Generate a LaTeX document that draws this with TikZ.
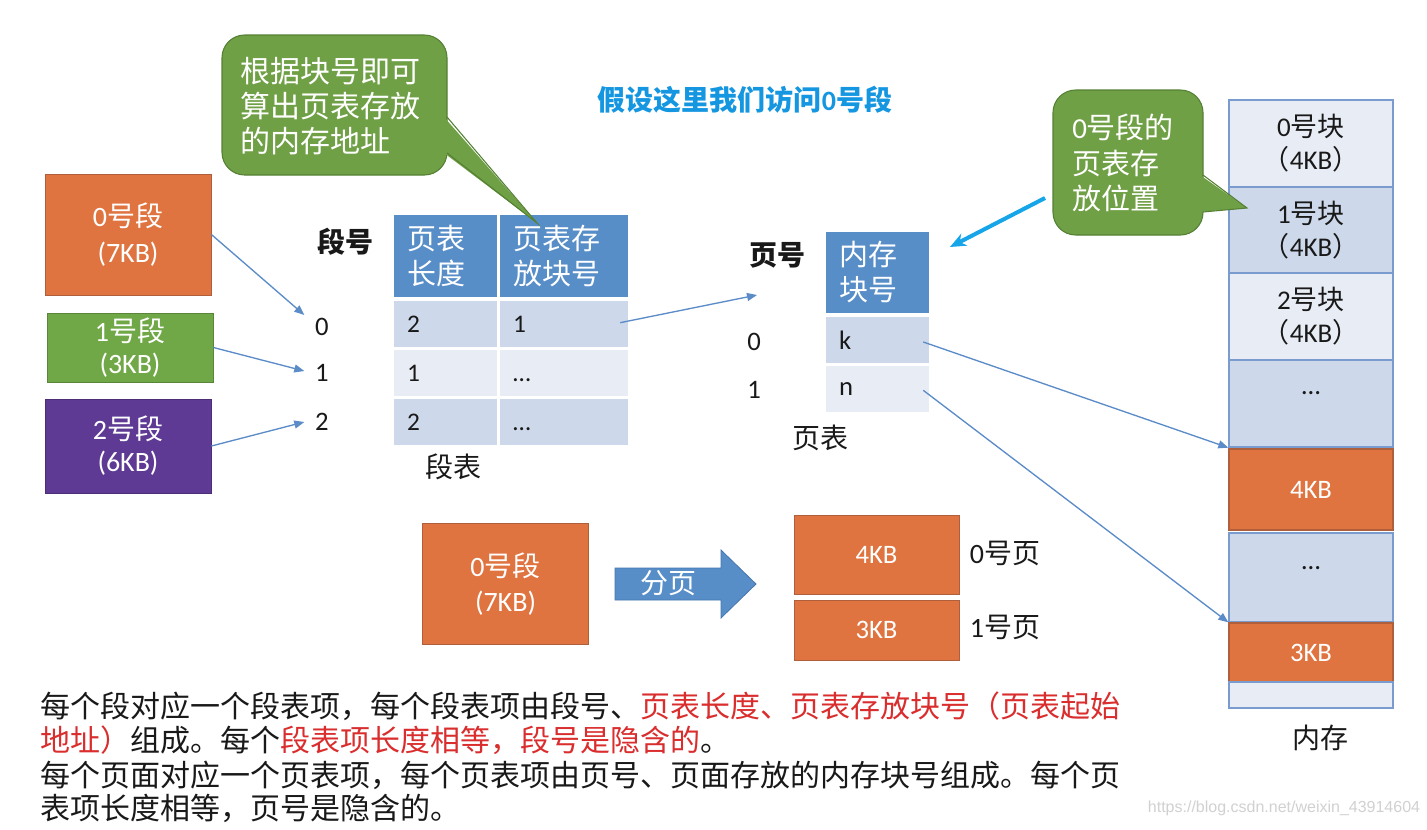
\documentclass[tikz,border=0pt]{standalone}
\usepackage{fontspec}
\setmainfont{Noto Sans CJK SC}
\newfontfamily\lat{Carlito}
\newfontfamily\wmf{Liberation Sans}
\usetikzlibrary{arrows.meta}
\definecolor{orng}{RGB}{224,116,64}
\definecolor{orngd}{RGB}{175,95,60}
\definecolor{sgreen}{RGB}{112,168,71}
\definecolor{cgreen}{RGB}{112,160,70}
\definecolor{cgreend}{RGB}{84,128,52}
\definecolor{purp}{RGB}{94,58,148}
\definecolor{hblue}{RGB}{88,142,200}
\definecolor{hblued}{RGB}{70,118,175}
\definecolor{rowd}{RGB}{205,217,234}
\definecolor{rowl}{RGB}{232,237,245}
\definecolor{mbord}{RGB}{122,155,205}
\definecolor{connc}{RGB}{91,140,200}
\definecolor{ttl}{RGB}{20,150,225}
\definecolor{bluea}{RGB}{22,165,232}
\definecolor{redt}{RGB}{218,45,45}
\definecolor{txt}{RGB}{25,25,25}
\newcommand\myfs[2]{\fontsize{#1}{#2}\selectfont}
\begin{document}
\begin{tikzpicture}[x=0.75pt,y=-0.75pt,
  box/.style={inner sep=0pt, align=center, text=white},
  cell/.style={inner xsep=9.75pt, inner ysep=0pt, align=left},
  mem/.style={inner sep=0pt, align=center, minimum width=123pt, draw=mbord, line width=1pt, text=txt},
  omem/.style={mem, fill=orng, draw=orngd, text=white},
  lbl/.style={inner sep=0pt, text=txt},
  conn/.style={draw=connc, line width=1pt, -{Triangle[length=7.5pt,width=6pt]}},
  ]
\useasboundingbox (0,0) rectangle (1427,829);
\fill[white] (0,0) rectangle (1427,829);

% title
\node[lbl, text=ttl, font=\bfseries\myfs{21pt}{26pt}] (title) at (745,100) {假设这里我们访问{\lat 0}号段};

% segments
\node[box, fill=orng, draw=orngd, line width=0.6pt, minimum width=124.5pt, minimum height=90.75pt, font=\myfs{21pt}{27pt}] (s0) at (128,234.5) {{\lat 0}号段\\{\lat (7KB)}};
\node[box, fill=sgreen, draw=sgreen!80!black, line width=0.6pt, minimum width=124.5pt, minimum height=51.75pt, font=\myfs{21pt}{24pt}] (s1) at (130,347.5) {{\lat 1}号段\\{\lat (3KB)}};
\node[box, fill=purp, draw=purp!80!black, line width=0.6pt, minimum width=124.5pt, minimum height=70.5pt, font=\myfs{21pt}{24pt}] (s2) at (128,446) {{\lat 2}号段\\{\lat (6KB)}};

% segment table
\node[lbl, font=\bfseries\myfs{21pt}{26pt}] (dh) at (345,242) {段号};
\node[lbl, font=\lat\myfs{20pt}{24pt}] (sn0) at (322,327) {0};
\node[lbl, font=\lat\myfs{20pt}{24pt}] (sn1) at (322,373) {1};
\node[lbl, font=\lat\myfs{20pt}{24pt}] (sn2) at (322,422) {2};

\node[cell, fill=hblue, text=white, minimum width=77.25pt, text width=57.75pt, minimum height=61.5pt, font=\myfs{21.75pt}{26.25pt}] (h1) at (445.5,256) {页表\\长度};
\node[cell, fill=hblue, text=white, minimum width=96pt, text width=76.5pt, minimum height=61.5pt, font=\myfs{21.75pt}{26.25pt}] (h2) at (564,256) {页表存\\放块号};

\node[cell, fill=rowd, text=txt, text width=57.75pt, minimum height=34.5pt, font=\lat\myfs{19pt}{23pt}] (c01) at (445.5,324) {2};
\node[cell, fill=rowd, text=txt, text width=76.5pt, minimum height=34.5pt, font=\lat\myfs{19pt}{23pt}] (c02) at (564,324) {1};
\node[cell, fill=rowl, text=txt, text width=57.75pt, minimum height=34.5pt, font=\lat\myfs{19pt}{23pt}] (c11) at (445.5,373) {1};
\node[cell, fill=rowl, text=txt, text width=76.5pt, minimum height=34.5pt, font=\lat\myfs{19pt}{23pt}] (c12) at (564,373) {\vphantom{2}…};
\node[cell, fill=rowd, text=txt, text width=57.75pt, minimum height=34.5pt, font=\lat\myfs{19pt}{23pt}] (c21) at (445.5,422) {2};
\node[cell, fill=rowd, text=txt, text width=76.5pt, minimum height=34.5pt, font=\lat\myfs{19pt}{23pt}] (c22) at (564,422) {\vphantom{2}…};
\node[lbl, font=\myfs{21pt}{26pt}] (segcap) at (453,467) {段表};

% page table
\node[lbl, font=\bfseries\myfs{21pt}{26pt}] (ph) at (777,255) {页号};
\node[lbl, font=\lat\myfs{20pt}{24pt}] (pn0) at (754,342) {0};
\node[lbl, font=\lat\myfs{20pt}{24pt}] (pn1) at (754,390) {1};
\node[cell, fill=hblue, text=white, minimum width=77.25pt, text width=57.75pt, minimum height=60.75pt, font=\myfs{21.75pt}{26.25pt}] (ph1) at (877.5,272.5) {内存\\块号};
\node[cell, fill=rowd, text=txt, text width=57.75pt, minimum height=34.5pt, font=\lat\myfs{20pt}{23pt}] (p0) at (877.5,340) {k};
\node[cell, fill=rowl, text=txt, text width=57.75pt, minimum height=34.5pt, font=\lat\myfs{20pt}{23pt}] (p1) at (877.5,389) {n};
\node[lbl, font=\myfs{21pt}{26pt}] (pgcap) at (820,438) {页表};

% memory
\node[mem, fill=rowl, minimum height=65.25pt, font=\myfs{20.25pt}{24.75pt}] (m0) at (1311,143.5) {{\lat 0}号块\\（{\lat 4KB}）};
\node[mem, fill=rowd, minimum height=64.5pt, font=\myfs{20.25pt}{24.75pt}] (m1) at (1311,230) {{\lat 1}号块\\（{\lat 4KB}）};
\node[mem, fill=rowl, minimum height=65.25pt, font=\myfs{20.25pt}{24.75pt}] (m2) at (1311,316.5) {{\lat 2}号块\\（{\lat 4KB}）};
\node[mem, fill=rowd, minimum height=65.25pt] (m3) at (1311,403.5) {};
\node[omem, minimum height=60.75pt, font=\lat\myfs{20pt}{24pt}] (m4) at (1311,489.5) {4KB};
\node[mem, fill=rowd, minimum height=66.75pt] (m5) at (1311,577.5) {};
\node[omem, minimum height=44.25pt, font=\lat\myfs{20pt}{24pt}] (m6) at (1311,652.5) {3KB};
\node[mem, fill=rowl, minimum height=19.5pt] (m7) at (1311,695) {};
\node[lbl, font=\lat\myfs{20pt}{24pt}, anchor=base] (d1) at (1311,394) {…};
\node[lbl, font=\lat\myfs{20pt}{24pt}, anchor=base] (d2) at (1311,569) {…};
\node[lbl, font=\myfs{21pt}{26pt}] (memcap) at (1320,738) {内存};

% paging illustration
\node[box, fill=orng, draw=orngd, line width=0.6pt, minimum width=124.5pt, minimum height=90.75pt, font=\myfs{21pt}{26.25pt}] (b0) at (505.5,584) {{\lat 0}号段\\{\lat (7KB)}};
\fill[hblue, draw=hblued, line width=0.6pt] (615,568) -- (721,568) -- (721,550) -- (756,584) -- (721,618) -- (721,600) -- (615,600) -- cycle;
\node[lbl, text=white, font=\myfs{21pt}{26pt}] (fy) at (668,583) {分页};
\node[box, fill=orng, draw=orngd, line width=0.6pt, minimum width=123.75pt, minimum height=59.25pt, font=\lat\myfs{20pt}{24pt}] (pg0) at (876.5,554.5) {4KB};
\node[box, fill=orng, draw=orngd, line width=0.6pt, minimum width=123.75pt, minimum height=45pt, font=\lat\myfs{20pt}{24pt}] (pg1) at (876.5,630) {3KB};
\node[lbl, font=\myfs{21pt}{26pt}] (pl0) at (1005,553) {{\lat 0}号页};
\node[lbl, font=\myfs{21pt}{26pt}] (pl1) at (1005,627) {{\lat 1}号页};

% connectors
\draw[conn] (s0.east) -- ([xshift=-8pt,yshift=9pt]sn0.west);
\draw[conn] (s1.east) -- ([xshift=-8pt,yshift=1.5pt]sn1.west);
\draw[conn] (s2.east) -- ([xshift=-8pt]sn2.west);
\coordinate (ptin) at (757,295);
\draw[conn] ([xshift=-6pt,yshift=1pt]c02.east) -- (ptin);
\draw[conn] ([xshift=-4.5pt,yshift=-1.5pt]p0.east) -- (m3.south west);
\draw[conn] ([xshift=-4.5pt,yshift=-1pt]p1.east) -- (m6.north west);

% callout 1
\draw[fill=cgreen, draw=cgreend, line width=0.8pt, rounded corners=17pt] (222,35) rectangle (447,175);
\fill[cgreen] (444,117) -- (537,223) -- (444,153) -- cycle;
\draw[cgreend, line width=0.8pt] (447,117) -- (537,223) -- (447,153);
\node[lbl, text=white, anchor=west, align=left, font=\myfs{22.5pt}{26.25pt}] (c1t) at (240,106) {根据块号即可\\算出页表存放\\的内存地址};

% callout 2
\draw[fill=cgreen, draw=cgreend, line width=0.8pt, rounded corners=17pt] (1053,90) rectangle (1203,235);
\fill[cgreen] (1200,175) -- (1247,208) -- (1200,212) -- cycle;
\draw[cgreend, line width=0.8pt] (1203,175) -- (1247,208) -- (1203,212);
\node[lbl, text=white, anchor=west, align=left, font=\myfs{21.75pt}{26.6pt}] (c2t) at (1072,163) {{\lat 0}号段的\\页表存\\放位置};

% thick blue arrow
\coordinate (ba1) at (1045,198);
\coordinate (ba2) at (950,247);
\draw[draw=bluea, line width=3pt, -{Stealth[length=12pt,width=10pt]}] (ba1) -- (ba2);

% bottom text
\node[lbl, anchor=west, font=\myfs{22.5pt}{25.5pt}] (t1) at (40,706) {每个段对应一个段表项，每个段表项由段号、\textcolor{redt}{页表长度、页表存放块号（页表起始}};
\node[lbl, anchor=west, font=\myfs{22.5pt}{25.5pt}] (t2) at (40,740) {\textcolor{redt}{地址）}组成。每个\textcolor{redt}{段表项长度相等，段号是隐含的}。};
\node[lbl, anchor=west, font=\myfs{22.5pt}{25.5pt}] (t3) at (40,775) {每个页面对应一个页表项，每个页表项由页号、页面存放的内存块号组成。每个页};
\node[lbl, anchor=west, font=\myfs{22.5pt}{25.5pt}] (t4) at (40,808) {表项长度相等，页号是隐含的。};

% watermark
\node[lbl, text=black!18, font=\wmf\myfs{12pt}{14pt}] (wm) at (1284,808) {https://blog.csdn.net/weixin\_43914604};
\end{tikzpicture}
\end{document}
